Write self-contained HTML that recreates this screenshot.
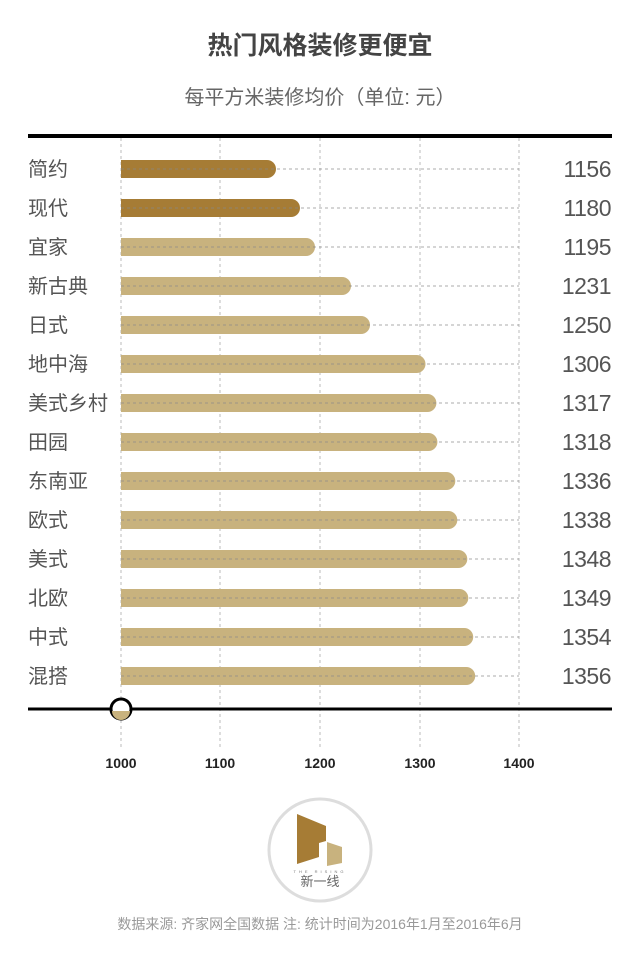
<!DOCTYPE html>
<html><head><meta charset="utf-8"><style>
html,body{margin:0;padding:0;background:#fff;}
svg{display:block;font-family:"Liberation Sans","Noto Sans CJK SC",sans-serif;}
</style></head><body>
<svg width="640" height="960" viewBox="0 0 640 960" xmlns="http://www.w3.org/2000/svg">
<rect width="640" height="960" fill="#fff"/>
<text x="320" y="54" text-anchor="middle" font-size="25" font-weight="bold" fill="#444">热门风格装修更便宜</text>
<text x="320" y="104" text-anchor="middle" font-size="20" fill="#666">每平方米装修均价（单位: 元）</text>
<g stroke="#bbb" stroke-width="1" stroke-dasharray="3,3">
<line x1="121" y1="138" x2="121" y2="750"/>
<line x1="220" y1="138" x2="220" y2="750"/>
<line x1="320" y1="138" x2="320" y2="750"/>
<line x1="420" y1="138" x2="420" y2="750"/>
<line x1="519" y1="138" x2="519" y2="750"/>
</g>
<line x1="28" y1="136" x2="612" y2="136" stroke="#000" stroke-width="4"/>
<line x1="28" y1="709" x2="612" y2="709" stroke="#000" stroke-width="3"/>

<g fill="#a67c35">
<rect x="121" y="160" width="155" height="18" rx="9"/><rect x="121" y="160" width="10" height="18"/>
<rect x="121" y="199" width="179" height="18" rx="9"/><rect x="121" y="199" width="10" height="18"/>
</g>
<g fill="#c8b27e">
<rect x="121" y="238" width="194" height="18" rx="9"/><rect x="121" y="238" width="10" height="18"/>
<rect x="121" y="277" width="230" height="18" rx="9"/><rect x="121" y="277" width="10" height="18"/>
<rect x="121" y="316" width="249" height="18" rx="9"/><rect x="121" y="316" width="10" height="18"/>
<rect x="121" y="355" width="304.5" height="18" rx="9"/><rect x="121" y="355" width="10" height="18"/>
<rect x="121" y="394" width="315.4" height="18" rx="9"/><rect x="121" y="394" width="10" height="18"/>
<rect x="121" y="433" width="316.4" height="18" rx="9"/><rect x="121" y="433" width="10" height="18"/>
<rect x="121" y="472" width="334.3" height="18" rx="9"/><rect x="121" y="472" width="10" height="18"/>
<rect x="121" y="511" width="336.3" height="18" rx="9"/><rect x="121" y="511" width="10" height="18"/>
<rect x="121" y="550" width="346.3" height="18" rx="9"/><rect x="121" y="550" width="10" height="18"/>
<rect x="121" y="589" width="347.3" height="18" rx="9"/><rect x="121" y="589" width="10" height="18"/>
<rect x="121" y="628" width="352.2" height="18" rx="9"/><rect x="121" y="628" width="10" height="18"/>
<rect x="121" y="667" width="354.2" height="18" rx="9"/><rect x="121" y="667" width="10" height="18"/>
</g>
<g stroke="#888" stroke-width="1" stroke-dasharray="3,3" opacity="0.7">
<line x1="121" y1="169" x2="519" y2="169"/><line x1="121" y1="208" x2="519" y2="208"/>
<line x1="121" y1="247" x2="519" y2="247"/><line x1="121" y1="286" x2="519" y2="286"/>
<line x1="121" y1="325" x2="519" y2="325"/><line x1="121" y1="364" x2="519" y2="364"/>
<line x1="121" y1="403" x2="519" y2="403"/><line x1="121" y1="442" x2="519" y2="442"/>
<line x1="121" y1="481" x2="519" y2="481"/><line x1="121" y1="520" x2="519" y2="520"/>
<line x1="121" y1="559" x2="519" y2="559"/><line x1="121" y1="598" x2="519" y2="598"/>
<line x1="121" y1="637" x2="519" y2="637"/><line x1="121" y1="676" x2="519" y2="676"/>
</g>
<g font-size="20" fill="#555">
<text x="28" y="176">简约</text><text x="28" y="215">现代</text><text x="28" y="254">宜家</text>
<text x="28" y="293">新古典</text><text x="28" y="332">日式</text><text x="28" y="371">地中海</text>
<text x="28" y="410">美式乡村</text><text x="28" y="449">田园</text><text x="28" y="488">东南亚</text>
<text x="28" y="527">欧式</text><text x="28" y="566">美式</text><text x="28" y="605">北欧</text>
<text x="28" y="644">中式</text><text x="28" y="683">混搭</text>
</g>
<g font-size="23" fill="#555" text-anchor="end" letter-spacing="-0.5">
<text x="611" y="177">1156</text><text x="611" y="216">1180</text><text x="611" y="255">1195</text>
<text x="611" y="294">1231</text><text x="611" y="333">1250</text><text x="611" y="372">1306</text>
<text x="611" y="411">1317</text><text x="611" y="450">1318</text><text x="611" y="489">1336</text>
<text x="611" y="528">1338</text><text x="611" y="567">1348</text><text x="611" y="606">1349</text>
<text x="611" y="645">1354</text><text x="611" y="684">1356</text>
</g>
<circle cx="121" cy="709" r="10" fill="#fff" stroke="#000" stroke-width="3"/>
<path d="M112 711 A9 9 0 0 0 130 711 Z" fill="#c8b27e"/>
<g font-size="14" font-weight="bold" fill="#222" text-anchor="middle">
<text x="121" y="768">1000</text><text x="220" y="768">1100</text><text x="320" y="768">1200</text><text x="420" y="768">1300</text><text x="519" y="768">1400</text>
</g>
<circle cx="320" cy="850" r="51" fill="#fff" stroke="#ddd" stroke-width="3"/>
<polygon points="297,814 326,826 326,841 319,843 319,857 297,864" fill="#a67c35"/>
<polygon points="327,842 342,847 342,863 327,866" fill="#c8b27e"/>
<text x="320" y="873" text-anchor="middle" font-size="4" fill="#777" letter-spacing="3">THE RISING</text>
<text x="320" y="886" text-anchor="middle" font-size="13" fill="#666">新一线</text>
<text x="320" y="929" text-anchor="middle" font-size="14" fill="#999">数据来源: 齐家网全国数据  注: 统计时间为2016年1月至2016年6月</text>
</svg>
</body></html>
